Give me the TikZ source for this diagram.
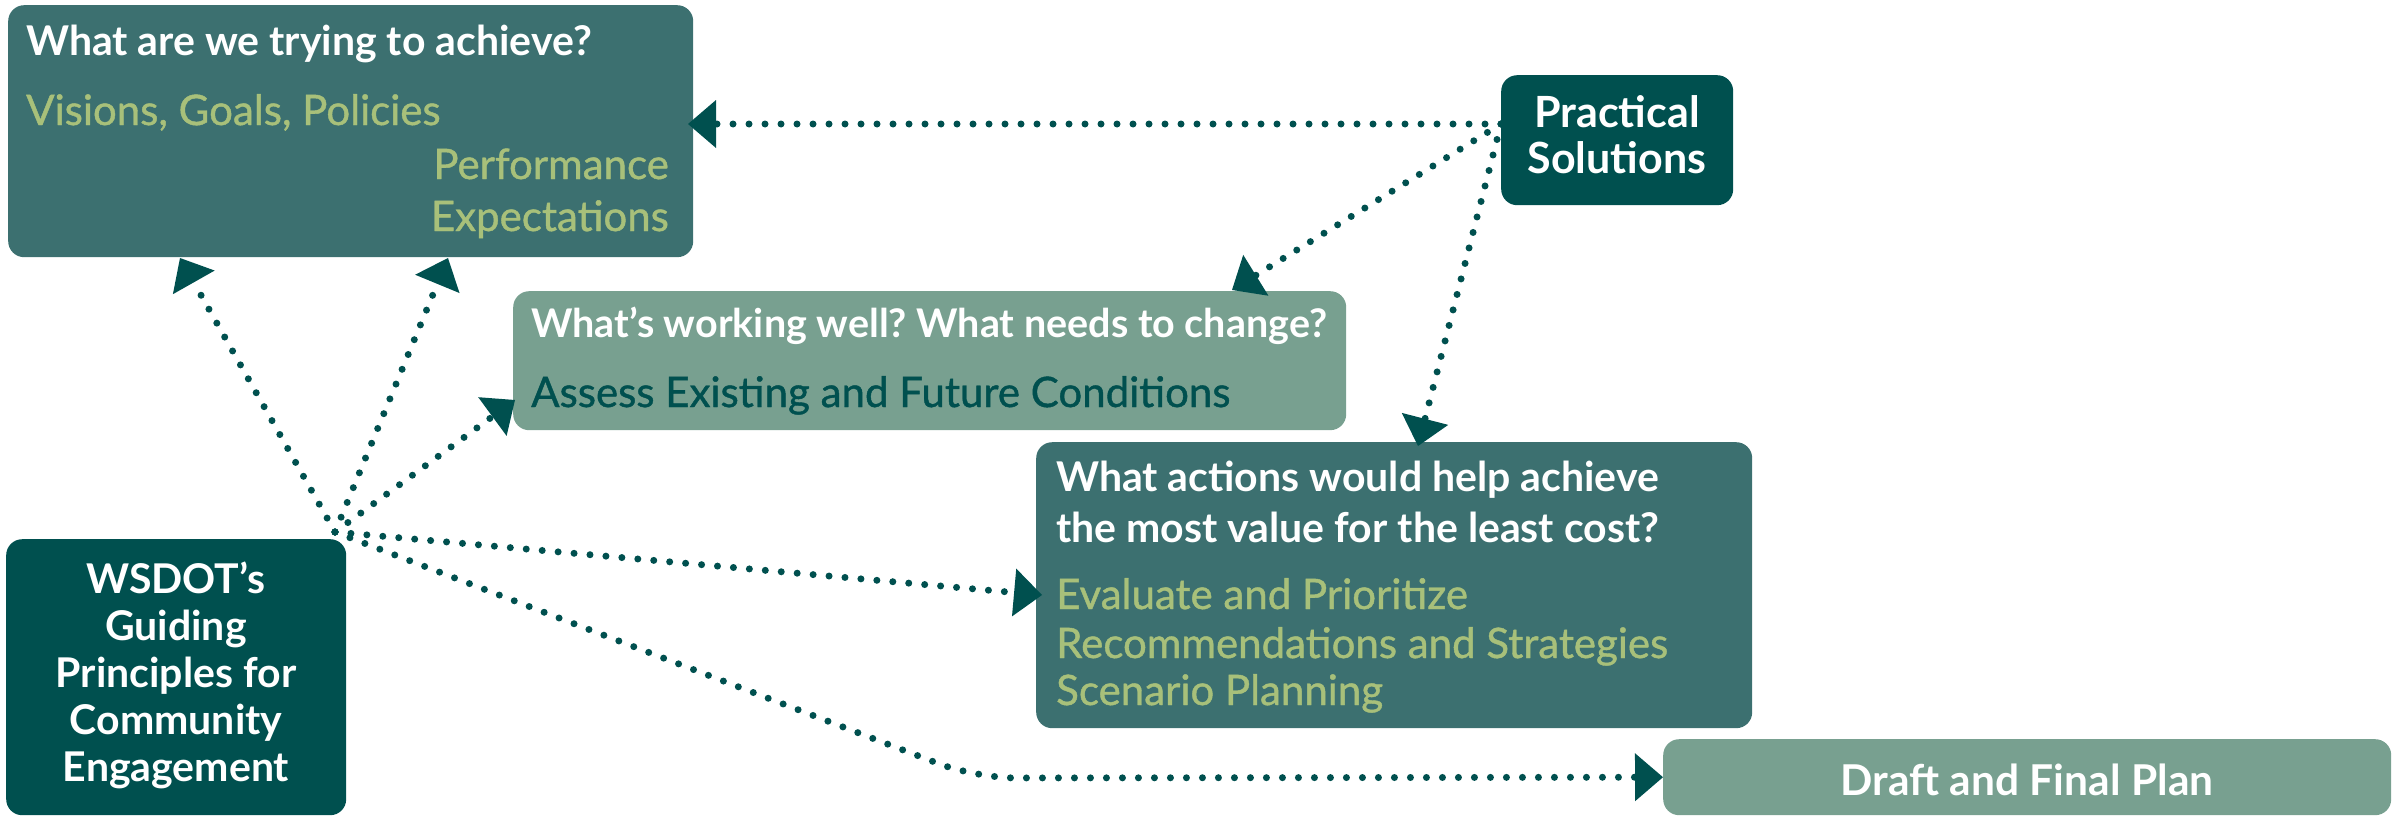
\documentclass[tikz,border=0pt]{standalone}
\usepackage{fontspec}
\setmainfont{Lato}
\newfontfamily\medfont[FakeBold=1]{Lato}
\usetikzlibrary{arrows.meta}
\definecolor{midteal}{RGB}{60,112,112}
\definecolor{darkteal}{RGB}{0,80,79}
\definecolor{lightteal}{RGB}{120,160,144}
\definecolor{leaf}{RGB}{168,192,122}
\frenchspacing
\begin{document}
\begin{tikzpicture}[x=1pt,y=-1pt,
  box/.style={rounded corners=16pt, inner sep=0pt, anchor=north west},
  ttl/.style={inner sep=0pt, text=white, font=\bfseries\fontsize{41}{48}\selectfont},
  sub/.style={inner sep=0pt, text=leaf, font=\medfont\fontsize{42}{48}\selectfont},
  conn/.style={darkteal, line width=7pt, line cap=round, dash pattern=on 0pt off 16pt,
    -{Triangle[length=28pt 0, width=48pt 0, line width=0pt]}}]
\useasboundingbox (0,0) rectangle (2399,819);
% boxes
\node[box, fill=midteal, minimum width=685pt, minimum height=252pt] (A) at (8,5) {};
\node[box, fill=darkteal, minimum width=232pt, minimum height=130pt] (PS) at (1501,75) {};
\node[box, fill=lightteal, minimum width=833pt, minimum height=139pt] (B) at (513,291) {};
\node[box, fill=midteal, minimum width=716pt, minimum height=286pt] (C) at (1036,442) {};
\node[box, fill=darkteal, minimum width=340pt, minimum height=276pt] (D) at (6,539) {};
\node[box, fill=lightteal, minimum width=728pt, minimum height=76pt] (E) at (1663,739) {};
% texts
\node[ttl, anchor=base west] (a1) at (26,55) {What are we trying to achieve?};
\node[sub, anchor=base west] (a2) at (26,125) {Visions, Goals, Policies};
\node[sub, anchor=base east] (a3) at (669,179) {Performance};
\node[sub, anchor=base east] (a4) at (669,231) {Expectations};
\node[ttl, anchor=base, font=\bfseries\fontsize{43}{48}\selectfont] (ps1) at (1617,127) {Practical};
\node[ttl, anchor=base, font=\bfseries\fontsize{43}{48}\selectfont] (ps2) at (1617,173) {Solutions};
\node[ttl, anchor=base west, font=\bfseries\fontsize{39.5}{48}\selectfont] (b1) at (531,337) {What’s working well? What needs to change?};
\node[sub, anchor=base west, text=darkteal] (b2) at (531,407) {Assess Existing and Future Conditions};
\node[ttl, anchor=base west] (c1) at (1056,491) {What actions would help achieve};
\node[ttl, anchor=base west] (c2) at (1056,542) {the most value for the least cost?};
\node[sub, anchor=base west] (c3) at (1056,609) {Evaluate and Prioritize};
\node[sub, anchor=base west] (c4) at (1056,658) {Recommendations and Strategies};
\node[sub, anchor=base west] (c5) at (1056,705) {Scenario Planning};
\begin{scope}[every node/.append style={font=\bfseries\fontsize{43.5}{48}\selectfont}]
\node[ttl, anchor=base] (d1) at (176,593) {WSDOT’s};
\node[ttl, anchor=base] (d2) at (176,640) {Guiding};
\node[ttl, anchor=base] (d3) at (176,687) {Principles for};
\node[ttl, anchor=base] (d4) at (176,734) {Community};
\node[ttl, anchor=base] (d5) at (176,781) {Engagement};
\end{scope}
\node[ttl, anchor=base, font=\bfseries\fontsize{42.5}{48}\selectfont] (e1) at (2027,795) {Draft and Final Plan};
% connector ends
\coordinate (hub) at (335,532);
\coordinate (pshub) at (1501,124);
\coordinate (tA1) at (180,258);
\coordinate (tA2) at (448,258);
\coordinate (tB) at (515,400);
\coordinate (tC) at (1042,595);
\coordinate (bend) at (976,778);
\coordinate (tA3) at (688,124);
\coordinate (tB2) at (1232,290);
\coordinate (tC2) at (1418,446);
% connectors
\draw[conn] (hub) -- (tA1);
\draw[conn] (hub) -- (tA2);
\draw[conn] (hub) -- (tB);
\draw[conn] (hub) -- (tC);
\draw[conn, rounded corners=40pt] (hub) -- (bend) -- (E.west);
\draw[conn] (pshub) -- (tA3);
\draw[conn] (pshub) -- (tB2);
\draw[conn] (pshub) -- (tC2);
\end{tikzpicture}
\end{document}
